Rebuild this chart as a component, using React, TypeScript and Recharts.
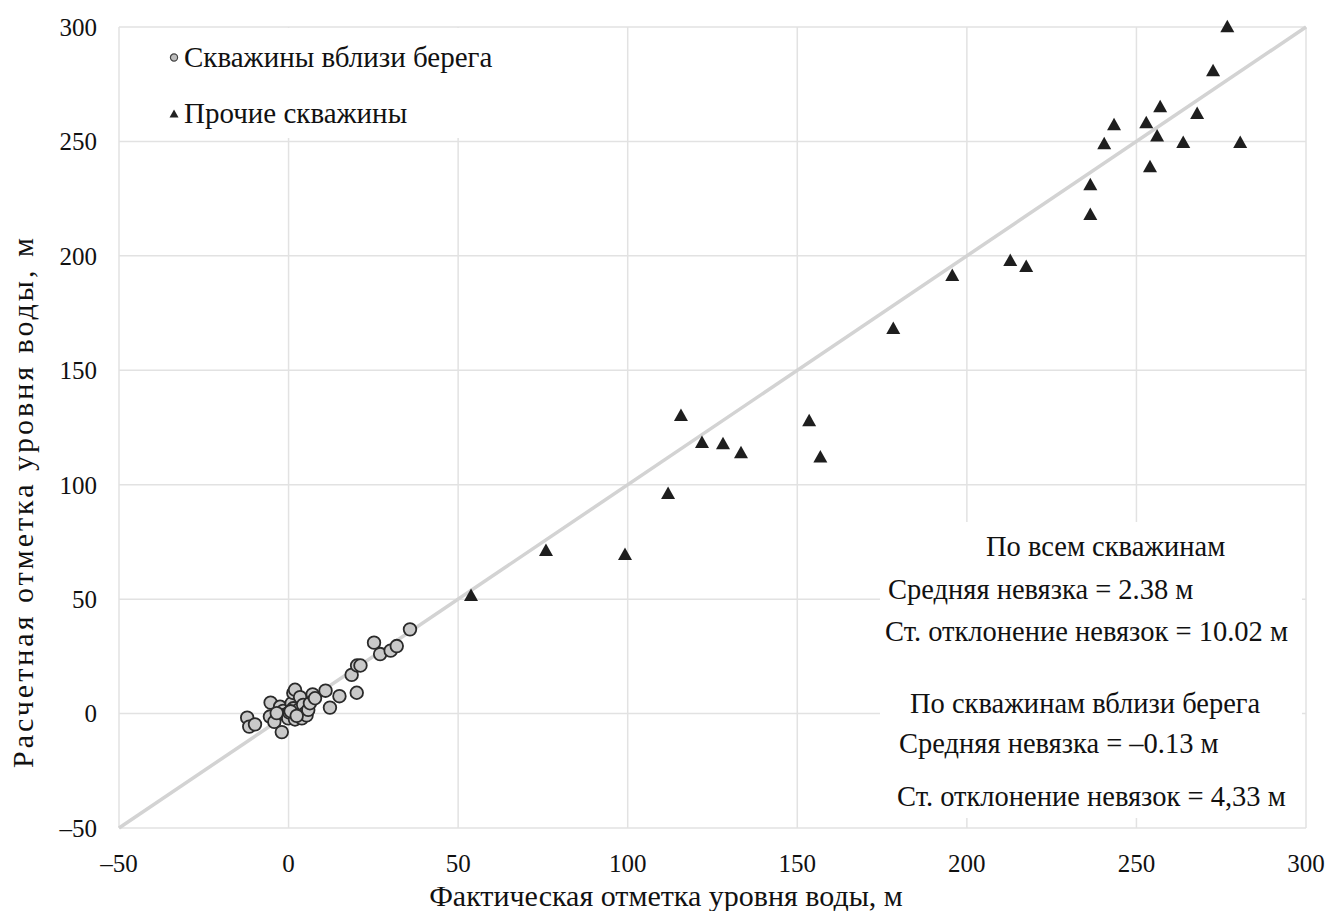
import React from 'react';
import { ScatterChart, Scatter, XAxis, YAxis, CartesianGrid, Legend } from 'recharts';

// actual vs. calculated water level, m
const nearShoreActual = [
  -12.2, -11.6, -9.9, -5.3, -5.5, -4.2, -2.0, -2.5, -1.6, -1.0, -0.1, 0.2, 0.9, 1.4,
  1.9, 1.4, 2.9, 1.9, 3.4, 3.9, 4.3, 4.8, 5.3, 5.8, 6.3, 7.1, 7.8, 10.9, 12.2, 15.0,
  18.6, 20.1, 20.2, 21.2, 25.2, 27.0, 30.1, 31.9, 35.8, -3.5, 0.6, 2.4,
];
const nearShoreCalc = [
  -1.8, -5.7, -4.7, 4.8, -1.3, -3.6, -8.1, 3.0, 1.2, -0.5, -2.1, 0.5, 4.5, 9.0,
  10.4, 2.3, 1.6, -2.6, 7.2, -2.1, 3.8, 0.1, -0.8, 1.6, 4.5, 8.4, 6.7, 10.0, 2.6, 7.6,
  16.9, 9.1, 21.0, 21.0, 31.0, 26.0, 27.5, 29.5, 36.8, 0.2, 1.0, -1.0,
];

const otherActual = [
  53.8, 75.9, 99.2, 111.9, 115.7, 121.9, 128.1, 133.4, 153.5, 156.8, 178.3, 195.7,
  212.8, 217.5, 236.4, 236.4, 240.5, 243.4, 252.9, 256.1, 257.0, 254.0, 263.8, 267.9,
  272.6, 276.8, 280.6,
];
const otherCalc = [
  51.4, 71.0, 69.3, 95.9, 130.0, 118.2, 117.7, 113.8, 127.7, 111.9, 168.0, 191.2,
  197.7, 195.1, 230.9, 217.8, 248.8, 257.1, 257.9, 252.2, 264.9, 238.7, 249.3, 262.0,
  280.7, 299.9, 249.3,
];

const diagonal = [-50, 300];
const axisTicks = [-50, 0, 50, 100, 150, 200, 250, 300];

const statsAll = ['Средняя невязка = 2.38 м', 'Ст. отклонение невязок = 10.02 м'];
const statsShore = ['Средняя невязка = –0.13 м', 'Ст. отклонение невязок = 4,33 м'];

const FONT = '"Liberation Serif", "Times New Roman", serif';

const nearShoreData = nearShoreActual.map((x, i) => ({ x, y: nearShoreCalc[i] }));
const otherData = otherActual.map((x, i) => ({ x, y: otherCalc[i] }));
const diagonalData = diagonal.map((v) => ({ x: v, y: v }));

const fmt = (v: number) => (v < 0 ? `–${-v}` : `${v}`);

const XTick = (props: any) => {
  const { x, y, payload } = props;
  return (
    <text x={x} y={y} dy="0.71em" textAnchor="middle" fill="#111" fontSize={25} fontFamily={FONT}>
      {fmt(payload.value)}
    </text>
  );
};

const YTick = (props: any) => {
  const { x, y, payload } = props;
  return (
    <text x={x} y={y} dy="0.355em" textAnchor="end" fill="#111" fontSize={25} fontFamily={FONT}>
      {fmt(payload.value)}
    </text>
  );
};

const CircleDot = (props: any) => {
  const { cx, cy } = props;
  if (cx == null || cy == null) return null;
  return <circle cx={cx} cy={cy} r={6.3} fill="#c9c9c9" stroke="#2a2a2a" strokeWidth={1.8} />;
};

const TriangleDot = (props: any) => {
  const { cx, cy } = props;
  if (cx == null || cy == null) return null;
  const w = 7;
  return (
    <polygon
      points={`${cx},${cy - 7.5} ${cx + w},${cy + 5} ${cx - w},${cy + 5}`}
      fill="#1e1e1e"
    />
  );
};

const NoDot = () => null;

const LegendBox = () => (
  <div
    style={{
      background: '#fff',
      width: 400,
      height: 110,
      position: 'relative',
      fontFamily: FONT,
      fontSize: 29,
      color: '#111',
    }}
  >
    <div style={{ position: 'absolute', left: 48, top: 29, transform: 'translateY(-50%)', display: 'flex', alignItems: 'center', whiteSpace: 'nowrap' }}>
      <svg width={10} height={10} style={{ marginRight: 5 }}>
        <circle cx={5} cy={5} r={3.6} fill="#bdbdbd" stroke="#444" strokeWidth={1.2} />
      </svg>
      Скважины вблизи берега
    </div>
    <div style={{ position: 'absolute', left: 48, top: 85, transform: 'translateY(-50%)', display: 'flex', alignItems: 'center', whiteSpace: 'nowrap' }}>
      <svg width={10} height={10} style={{ marginRight: 5 }}>
        <polygon points="5,1 9.5,9 0.5,9" fill="#222" />
      </svg>
      Прочие скважины
    </div>
  </div>
);

const statLine = (text: string, left: number, top: number) => (
  <div key={text + top} style={{ position: 'absolute', left, top, transform: 'translateY(-50%)', whiteSpace: 'nowrap' }}>
    {text}
  </div>
);

export default function App() {
  return (
    <div style={{ position: 'absolute', left: 0, top: 0, width: 1328, height: 911, background: '#fff' }}>
      <ScatterChart
        width={1328}
        height={911}
        margin={{ top: 27, right: 22, bottom: 0, left: 0 }}
        style={{ fontFamily: FONT }}
      >
        <CartesianGrid stroke="#e2e2e2" strokeWidth={1.5} />
        <XAxis
          type="number"
          dataKey="x"
          domain={[-50, 300]}
          ticks={axisTicks}
          axisLine={false}
          tickLine={false}
          tickSize={0}
          tickMargin={26}
          height={83}
          tick={<XTick />}
          label={{
            content: () => (
              <text x={666} y={895} textAnchor="middle" dominantBaseline="central" fill="#111" fontSize={30} fontFamily={FONT}>
                Фактическая отметка уровня воды, м
              </text>
            ),
          }}
        />
        <YAxis
          type="number"
          dataKey="y"
          domain={[-50, 300]}
          ticks={axisTicks}
          axisLine={false}
          tickLine={false}
          tickSize={0}
          tickMargin={22}
          width={119}
          tick={<YTick />}
          label={{
            content: () => (
              <text
                x={22}
                y={503}
                transform="rotate(-90 22 503)"
                textAnchor="middle"
                dominantBaseline="central"
                fill="#111"
                fontSize={30}
                fontFamily={FONT}
                textLength={530}
                lengthAdjust="spacing"
              >
                Расчетная отметка уровня воды, м
              </text>
            ),
          }}
        />
        <Legend
          layout="vertical"
          align="center"
          verticalAlign="middle"
          wrapperStyle={{ left: 121, top: 28, width: 400 }}
          content={() => <LegendBox />}
        />
        <Scatter
          data={diagonalData}
          line={{ stroke: '#d3d3d3', strokeWidth: 3.5 }}
          shape={NoDot}
          legendType="none"
          isAnimationActive={false}
        />
        <Scatter name="Скважины вблизи берега" data={nearShoreData} shape={CircleDot} isAnimationActive={false} />
        <Scatter name="Прочие скважины" data={otherData} shape={TriangleDot} isAnimationActive={false} />
      </ScatterChart>
      <div
        style={{
          position: 'absolute',
          left: 880,
          top: 522,
          width: 422,
          height: 296,
          background: '#fff',
          fontFamily: FONT,
          fontSize: 28.5,
          color: '#111',
        }}
      >
        {statLine('По всем скважинам', 106, 25)}
        {statLine(statsAll[0], 8, 68)}
        {statLine(statsAll[1], 5, 110)}
        {statLine('По скважинам вблизи берега', 30, 182)}
        {statLine(statsShore[0], 19, 222)}
        {statLine(statsShore[1], 17, 275)}
      </div>
    </div>
  );
}
